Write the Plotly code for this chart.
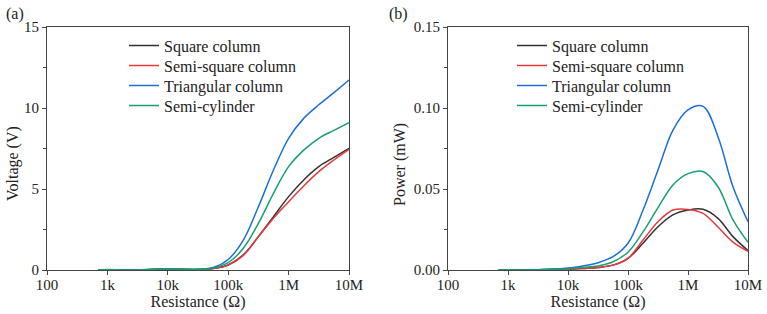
import plotly.graph_objects as go

# ---------------- data ----------------
resistance = [700, 1000, 1780, 3160, 5620, 10000, 17800, 31600, 56200,
              100000, 178000, 316000, 562000, 1000000, 1780000, 3160000,
              5620000, 10000000]

series_names = ["Square column", "Semi-square column", "Triangular column", "Semi-cylinder"]
series_colors = ["#333333", "#e8383d", "#1c6fd6", "#18a06e"]

voltage_square = [0.0, 0.02, 0.0, 0.0, 0.03, 0.06, 0.04, 0.03, 0.09, 0.31, 0.93, 2.06, 3.29, 4.53, 5.56, 6.38, 6.95, 7.51]
voltage_semisquare = [0.0, 0.02, 0.0, 0.0, 0.03, 0.06, 0.04, 0.03, 0.09, 0.30, 0.90, 2.06, 3.20, 4.22, 5.19, 6.07, 6.79, 7.45]
voltage_triangular = [0.0, 0.02, 0.0, 0.0, 0.04, 0.08, 0.05, 0.04, 0.15, 0.65, 1.85, 3.90, 6.17, 8.13, 9.36, 10.2, 10.95, 11.73]
voltage_semicyl = [0.0, 0.03, 0.0, 0.0, 0.04, 0.08, 0.05, 0.04, 0.12, 0.45, 1.34, 2.88, 4.73, 6.38, 7.40, 8.13, 8.62, 9.10]

power_square = [0.0, 0.0002, 0.0, 0.0001, 0.0003, 0.0005, 0.001, 0.0016, 0.003, 0.0072, 0.0165, 0.0267, 0.034, 0.037, 0.0375, 0.0319, 0.0206, 0.012]
power_semisquare = [0.0, 0.0002, 0.0, 0.0001, 0.0003, 0.0005, 0.001, 0.0016, 0.003, 0.0072, 0.0185, 0.0298, 0.037, 0.0374, 0.035, 0.0265, 0.0172, 0.0115]
power_triangular = [0.0, 0.0002, 0.0, 0.0002, 0.0006, 0.0012, 0.0025, 0.0045, 0.0082, 0.0165, 0.037, 0.0617, 0.0864, 0.0988, 0.101, 0.0823, 0.0514, 0.0298]
power_semicyl = [0.0, 0.0002, 0.0, 0.0002, 0.0004, 0.0008, 0.0016, 0.0025, 0.0051, 0.0110, 0.0235, 0.0385, 0.0525, 0.0595, 0.0608, 0.0514, 0.0309, 0.0171]

x_tickvals = [100, 1000, 10000, 100000, 1000000, 10000000]
x_ticktext = ["100", "1k", "10k", "100k", "1M", "10M"]
x_top_ticks = [316.2, 1000, 3162, 10000, 31623, 100000, 316228, 1000000, 3162278]

v_ticks = [0, 5, 10, 15]
v_minor = [2.5, 7.5, 12.5]
v_right = [1.5, 3, 4.5, 6, 7.5, 9, 10.5, 12, 13.5]
p_ticks = [0.0, 0.05, 0.10, 0.15]
p_ticktext = ["0.00", "0.05", "0.10", "0.15"]
p_minor = [0.025, 0.075, 0.125]
p_right = [0.015, 0.03, 0.045, 0.06, 0.075, 0.09, 0.105, 0.12, 0.135]

voltages = [voltage_square, voltage_semisquare, voltage_triangular, voltage_semicyl]
powers = [power_square, power_semisquare, power_triangular, power_semicyl]

# ---------------- figure ----------------
W, H = 767, 314
FONT = "Liberation Serif"
TXT = "#222222"
AX = "#444444"


def px_x(p):
    return p / W


def px_y(p):
    return 1 - p / H


legend_rows = [45.7, 65.7, 85.7, 105.7]
legend_layout = {}
fig = go.Figure()
for i, (name, col, v) in enumerate(zip(series_names, series_colors, voltages)):
    lid = "legend" if i == 0 else f"legend{i + 1}"
    fig.add_trace(go.Scatter(x=resistance, y=v, mode="lines", name=name,
                             line=dict(color=col, width=1.5, shape="spline", smoothing=1),
                             xaxis="x", yaxis="y", legend=lid))
    legend_layout[lid] = dict(x=px_x(124), y=px_y(legend_rows[i]), xanchor="left", yanchor="middle",
                              bgcolor="rgba(0,0,0,0)", borderwidth=0,
                              font=dict(family=FONT, size=16, color=TXT))
for i, (name, col, p) in enumerate(zip(series_names, series_colors, powers)):
    lid = f"legend{i + 5}"
    fig.add_trace(go.Scatter(x=resistance, y=p, mode="lines", name=name,
                             line=dict(color=col, width=1.5, shape="spline", smoothing=1),
                             xaxis="x2", yaxis="y2", legend=lid))
    legend_layout[lid] = dict(x=px_x(512), y=px_y(legend_rows[i]), xanchor="left", yanchor="middle",
                              bgcolor="rgba(0,0,0,0)", borderwidth=0,
                              font=dict(family=FONT, size=16, color=TXT))

dom_a = [px_x(47), px_x(349)]
dom_b = [px_x(448), px_x(748)]
dom_y = [px_y(270), px_y(27)]

xcommon = dict(type="log", range=[2, 7], tickvals=x_tickvals, ticktext=x_ticktext,
               ticks="outside", ticklen=4, tickcolor=AX, tickwidth=1,
               showline=True, linecolor=AX, linewidth=1, mirror=True,
               showgrid=False, zeroline=False, ticklabelstandoff=-3,
               tickfont=dict(family=FONT, size=15, color=TXT),
               title=dict(text="Resistance (Ω)", font=dict(family=FONT, size=16, color=TXT), standoff=0))
xtop = dict(type="log", range=[2, 7], tickvals=x_top_ticks, ticks="inside", ticklen=4,
            tickcolor=AX, showticklabels=False, showline=False, showgrid=False,
            zeroline=False, side="top")

fig.update_layout(
    width=W, height=H,
    margin=dict(l=0, r=0, t=0, b=0, autoexpand=False),
    paper_bgcolor="white", plot_bgcolor="white",
    xaxis=dict(domain=dom_a, anchor="y", **xcommon),
    xaxis2=dict(domain=dom_b, anchor="y2", **xcommon),
    xaxis3=dict(overlaying="x", anchor="y", **xtop),
    xaxis4=dict(overlaying="x2", anchor="y2", **xtop),
    yaxis=dict(domain=dom_y, anchor="x", range=[0, 15], tickvals=v_ticks,
               ticks="outside", ticklen=4, tickcolor=AX,
               minor=dict(tickvals=v_minor, ticks="outside", ticklen=3, tickcolor=AX),
               showline=True, linecolor=AX, linewidth=1, mirror=True,
               showgrid=False, zeroline=False,
               tickfont=dict(family=FONT, size=15, color=TXT)),
    yaxis2=dict(domain=dom_y, anchor="x2", range=[0, 0.15], tickvals=p_ticks, ticktext=p_ticktext,
                ticks="outside", ticklen=4, tickcolor=AX,
                minor=dict(tickvals=p_minor, ticks="outside", ticklen=3, tickcolor=AX),
                showline=True, linecolor=AX, linewidth=1, mirror=True,
                showgrid=False, zeroline=False,
                tickfont=dict(family=FONT, size=15, color=TXT)),
    yaxis3=dict(overlaying="y", anchor="x", side="right", range=[0, 15], tickvals=v_right,
                ticks="inside", ticklen=4, tickcolor=AX, showticklabels=False,
                showline=False, showgrid=False, zeroline=False),
    yaxis4=dict(overlaying="y2", anchor="x2", side="right", range=[0, 0.15], tickvals=p_right,
                ticks="inside", ticklen=4, tickcolor=AX, showticklabels=False,
                showline=False, showgrid=False, zeroline=False),
    showlegend=True,
    **legend_layout,
)

annots = [
    dict(text="(a)", x=px_x(4), y=px_y(14), xanchor="left", yanchor="middle"),
    dict(text="(b)", x=px_x(387), y=px_y(14), xanchor="left", yanchor="middle"),
    dict(text="Voltage (V)", x=px_x(13), y=px_y(164), xanchor="center", yanchor="middle", textangle=-90),
    dict(text="Power (mW)", x=px_x(400), y=px_y(165), xanchor="center", yanchor="middle", textangle=-90),
]
for a in annots:
    fig.add_annotation(xref="paper", yref="paper", showarrow=False,
                       font=dict(family=FONT, size=16, color=TXT), **a)

fig.write_html("out.html", config={"displayModeBar": False},
               post_script="document.body.style.margin='0px';")
